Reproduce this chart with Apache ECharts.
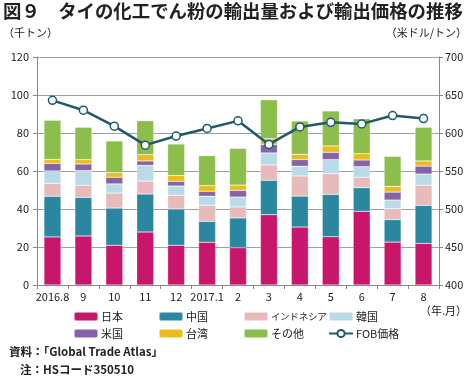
<!DOCTYPE html>
<html><head><meta charset="utf-8">
<script src="https://cdn.jsdelivr.net/npm/echarts@6/dist/echarts.min.js"></script>
<style>html,body{margin:0;padding:0;background:#fff}#c{width:470px;height:379px}</style>
</head><body><div id="c"></div>
<script>
const categories = ['2016.8','9','10','11','12','2017.1','2','3','4','5','6','7','8'];
const japan     = [25.3,25.8,20.9,27.9,20.9,22.5,19.6,37.0,30.5,25.4,38.8,22.6,21.9];
const china     = [21.4,20.3,19.6,20.0,19.1,11.0,15.7,18.1,16.3,22.3,12.4,11.8,20.0];
const indonesia = [6.8,6.4,7.9,6.8,7.2,8.4,5.8,8.1,10.6,10.9,5.5,5.8,10.6];
const korea     = [6.5,7.7,4.8,8.3,4.9,4.8,5.2,6.3,5.1,7.4,5.6,4.5,5.9];
const usa       = [4.0,3.5,3.5,2.3,2.5,2.6,3.5,4.4,3.5,3.8,3.5,4.2,4.2];
const taiwan    = [2.1,2.3,2.4,3.3,3.1,3.0,2.8,3.1,2.8,3.4,3.3,3.0,2.7];
const others    = [20.6,17.0,16.7,17.9,16.5,15.8,19.3,20.5,17.5,18.4,18.4,15.8,17.7];
const fobPrice  = [643,630,609,584,596,606,616,585,608,614,612,623,619];
const leftTicks = [0,20,40,60,80,100,120];
const rightTicks = [400,450,500,550,600,650,700];

const FONT = '"Noto Sans CJK JP", "Noto Sans", sans-serif';
const stackDefs = [
  ['日本', japan, '#c8166b'],
  ['中国', china, '#2a879f'],
  ['インドネシア', indonesia, '#e8baba'],
  ['韓国', korea, '#b9dbe7'],
  ['米国', usa, '#8563a7'],
  ['台湾', taiwan, '#e8bd22'],
  ['その他', others, '#8cbe4b']
];
const series = stackDefs.map(([name, data, color]) => ({
  name, type: 'bar', stack: 'a', data, barWidth: 17,
  itemStyle: { color, borderColor: 'rgba(255,255,255,0.5)', borderWidth: 0.5 }
}));
series.push({
  name: 'FOB価格', type: 'line', yAxisIndex: 1, data: fobPrice,
  symbol: 'circle', symbolSize: 8,
  lineStyle: { color: '#1f5a6c', width: 2.5 },
  itemStyle: { color: '#fff', borderColor: '#1f5a6c', borderWidth: 1.5 },
  z: 10
});

const legendPos = [
  ['日本', 73, 311, 11], ['中国', 158, 311, 11], ['インドネシア', 243, 311, 9.3], ['韓国', 328, 311, 11],
  ['米国', 73, 328, 11], ['台湾', 158, 328, 11], ['その他', 243, 328, 11], ['FOB価格', 328, 328, 11]
];
const legends = legendPos.map(([n, x, y, fs]) => ({
  data: [n], left: x, top: y, itemWidth: 24, itemHeight: 9, itemGap: 4, padding: 0,
  textStyle: { fontFamily: FONT, fontSize: fs, color: '#222', padding: [0,0,0,-2] },
  selectedMode: false
}));

const chart = echarts.init(document.getElementById('c'), null, { renderer: 'canvas' });
chart.setOption({
  animation: false,
  textStyle: { fontFamily: FONT },
  grid: { left: 37, right: 31, top: 57, height: 228 },
  legend: legends,
  xAxis: {
    type: 'category', data: categories, boundaryGap: true,
    axisLine: { lineStyle: { color: '#888', width: 1 } },
    axisTick: { show: true, length: 4, lineStyle: { color: '#888' } },
    axisLabel: { color: '#222', fontSize: 11, margin: 6, fontFamily: FONT, interval: 0 }
  },
  yAxis: [{
    type: 'value', min: leftTicks[0], max: leftTicks[leftTicks.length-1], interval: 20,
    axisLine: { show: true, lineStyle: { color: '#888' } },
    axisTick: { show: true, length: 4, lineStyle: { color: '#888' } },
    splitLine: { lineStyle: { color: '#a0a0a0', width: 1 } },
    axisLabel: { color: '#222', fontSize: 11, margin: 8, fontFamily: FONT }
  }, {
    type: 'value', min: rightTicks[0], max: rightTicks[rightTicks.length-1], interval: 50,
    axisLine: { show: true, lineStyle: { color: '#888' } },
    axisTick: { show: true, length: 4, lineStyle: { color: '#888' } },
    splitLine: { show: false },
    axisLabel: { color: '#222', fontSize: 11, margin: 6, fontFamily: FONT }
  }],
  graphic: [
    { type: 'text', left: 3, top: 2, style: { text: '図９　タイの化工でん粉の輸出量および輸出価格の推移', font: 'bold 18.4px ' + FONT, fill: '#222' } },
    { type: 'text', left: 3, top: 27, style: { text: '（千トン）', font: '11px ' + FONT, fill: '#222' } },
    { type: 'text', right: 3, top: 27, style: { text: '（米ドル/トン）', font: '11px ' + FONT, fill: '#222' } },
    { type: 'text', right: 3, top: 305, style: { text: '（年.月）', font: '11px ' + FONT, fill: '#222' } },
    { type: 'text', left: 9, top: 346, style: { text: '資料：「Global Trade Atlas」', font: 'bold 11.5px ' + FONT, fill: '#222' } },
    { type: 'text', left: 20, top: 364, style: { text: '注：HSコード350510', font: 'bold 11.5px ' + FONT, fill: '#222' } }
  ],
  series
});
</script></body></html>
